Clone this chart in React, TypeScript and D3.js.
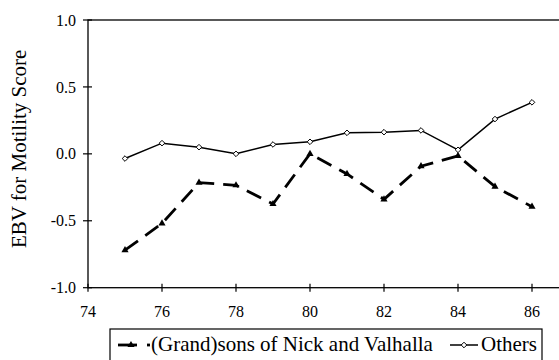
import React from "react";
import * as d3 from "d3";

const years = [75, 76, 77, 78, 79, 80, 81, 82, 83, 84, 85, 86];
const grandsons = [-0.72, -0.52, -0.215, -0.235, -0.375, 0.0, -0.15, -0.34, -0.092, -0.015, -0.245, -0.395];
const others = [-0.035, 0.08, 0.05, 0.0, 0.07, 0.09, 0.157, 0.162, 0.175, 0.03, 0.26, 0.385];
const xTicks = [74, 76, 78, 80, 82, 84, 86];
const yTicks = [-1.0, -0.5, 0.0, 0.5, 1.0];
const seriesNames = ["(Grand)sons of Nick and Valhalla", "Others"];
const yLabel = "EBV for Motility Score";

const W = 559;
const H = 360;
const FONT = "'Liberation Serif'";

export default function App() {
  const x = d3.scaleLinear().domain([74, 88]).range([88, 606]);
  const y = d3.scaleLinear().domain([-1, 1]).range([287.7, 20]);
  const line = d3
    .line<[number, number]>()
    .x((d) => x(d[0]))
    .y((d) => y(d[1]));
  const gData: [number, number][] = years.map((yr, i) => [yr, grandsons[i]]);
  const oData: [number, number][] = years.map((yr, i) => [yr, others[i]]);
  const tri = d3.symbol().type(d3.symbolTriangle).size(22)() as string;
  const dia = (cx: number, cy: number) =>
    `M${cx},${cy - 2.8}L${cx + 2.8},${cy}L${cx},${cy + 2.8}L${cx - 2.8},${cy}Z`;
  const ts = (size: number) => ({ fontFamily: FONT, fontSize: size + "px" });

  return (
    <div style={{ position: "fixed", left: 0, top: 0 }}>
      <svg width={W} height={H} style={{ display: "block", background: "#fff" }}>
        <rect x={0} y={0} width={W} height={H} fill="#fff" />
        <rect x={x(74)} y={y(1)} width={x(88) - x(74)} height={y(-1) - y(1)} fill="none" stroke="#000" strokeWidth={1.3} />
        {yTicks.map((t) => (
          <g key={"y" + t}>
            <line x1={x(74) - 5} x2={x(74) + 4} y1={y(t)} y2={y(t)} stroke="#000" strokeWidth={1.2} />
            <text x={x(74) - 12} y={y(t)} dy="0.35em" textAnchor="end" style={ts(16)}>
              {t.toFixed(1)}
            </text>
          </g>
        ))}
        {xTicks.map((t) => (
          <g key={"x" + t}>
            <line x1={x(t)} x2={x(t)} y1={y(-1) - 4} y2={y(-1) + 4} stroke="#000" strokeWidth={1.2} />
            <text x={x(t)} y={y(-1) + 29} textAnchor="middle" style={ts(16)}>
              {t}
            </text>
          </g>
        ))}
        <text transform={`translate(26,${(y(1) + y(-1)) / 2 - 5}) rotate(-90)`} textAnchor="middle" style={ts(21)}>
          {yLabel}
        </text>
        <path d={line(oData) as string} fill="none" stroke="#000" strokeWidth={1.5} />
        {oData.map((d, i) => (
          <path key={"o" + i} d={dia(x(d[0]), y(d[1]))} fill="#fff" stroke="#000" strokeWidth={1} />
        ))}
        <path d={line(gData) as string} fill="none" stroke="#000" strokeWidth={2.8} strokeDasharray="16 9" />
        {gData.map((d, i) => (
          <path key={"g" + i} d={tri} transform={`translate(${x(d[0])},${y(d[1])})`} fill="#000" />
        ))}
        <rect x={110} y={329} width={432} height={40} fill="#fff" stroke="#000" strokeWidth={1.2} />
        <line x1={118} x2={137} y1={345} y2={345} stroke="#000" strokeWidth={2.8} />
        <line x1={147} x2={150} y1={345} y2={345} stroke="#000" strokeWidth={2.8} />
        <path d={tri} transform="translate(131,345)" fill="#000" />
        <text x={151} y={351} style={ts(21)}>
          {seriesNames[0]}
        </text>
        <line x1={450} x2={478} y1={345} y2={345} stroke="#000" strokeWidth={1.5} />
        <path d={dia(464, 345)} fill="#fff" stroke="#000" strokeWidth={1} />
        <text x={481} y={351} style={ts(21)}>
          {seriesNames[1]}
        </text>
      </svg>
    </div>
  );
}
